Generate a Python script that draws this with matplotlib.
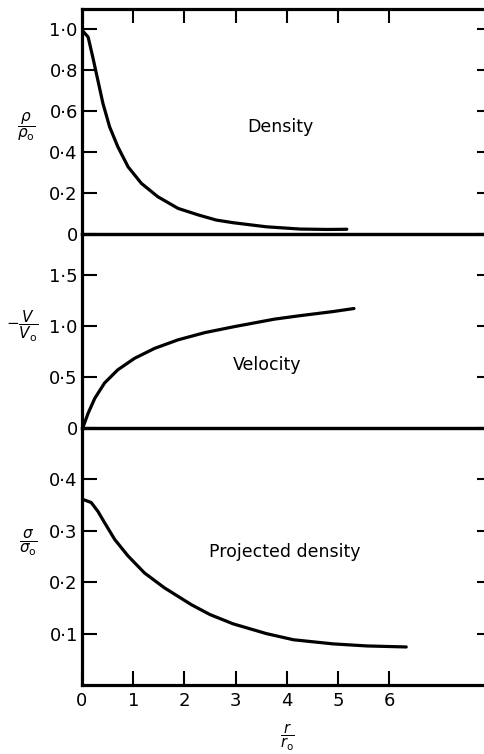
import numpy as np
import matplotlib.pyplot as plt

# values (x is r / r0)
r_density = [0, 0.02, 0.12, 0.21, 0.31, 0.41, 0.54, 0.70, 0.90, 1.16, 1.48, 1.875, 2.27, 2.62, 2.95, 3.6, 4.26, 4.8, 5.17]
density = [1.0, 0.99, 0.962, 0.865, 0.751, 0.637, 0.523, 0.426, 0.328, 0.247, 0.182, 0.125, 0.093, 0.068, 0.055, 0.035, 0.024, 0.022, 0.023]

r_velocity = [0, 0.02, 0.12, 0.25, 0.44, 0.70, 1.03, 1.42, 1.875, 2.40, 2.98, 3.76, 4.26, 4.9, 5.31]
velocity = [0, 0.007, 0.144, 0.29, 0.44, 0.57, 0.683, 0.78, 0.863, 0.934, 0.993, 1.066, 1.10, 1.14, 1.17]

r_projected = [0, 0.02, 0.18, 0.31, 0.44, 0.64, 0.90, 1.22, 1.61, 2.14, 2.5, 2.95, 3.6, 4.13, 4.9, 5.56, 6.33]
projected = [0.362, 0.361, 0.355, 0.338, 0.316, 0.283, 0.251, 0.218, 0.189, 0.156, 0.137, 0.119, 0.100, 0.088, 0.080, 0.076, 0.074]

density_ticks = [0, 0.2, 0.4, 0.6, 0.8, 1.0]
density_labels = ["0", "0·2", "0·4", "0·6", "0·8", "1·0"]
velocity_ticks = [0, 0.5, 1.0, 1.5]
velocity_labels = ["0", "0·5", "1·0", "1·5"]
projected_ticks = [0.1, 0.2, 0.3, 0.4]
projected_labels = ["0·1", "0·2", "0·3", "0·4"]
r_ticks = [0, 1, 2, 3, 4, 5, 6]
r_labels = ["0", "1", "2", "3", "4", "5", "6"]

plt.rcParams['font.family'] = 'DejaVu Sans'

fig = plt.figure(figsize=(4.85, 7.54), dpi=100)
left, width = 0.169, 0.845
ax1 = fig.add_axes([left, 0.6897, width, 0.2987])
ax2 = fig.add_axes([left, 0.4324, width, 0.2573])
ax3 = fig.add_axes([left, 0.0915, width, 0.3409])

lw = 2.3
for ax, ticks, labels, top in [(ax1, density_ticks, density_labels, 1.1),
                               (ax2, velocity_ticks, velocity_labels, 1.9),
                               (ax3, projected_ticks, projected_labels, 0.5)]:
    ax.set_xlim(0, 8)
    ax.set_ylim(0, top)
    for s in ax.spines.values():
        s.set_linewidth(lw)
    ax.set_yticks(ticks, labels)
    ax.tick_params(axis='y', direction='in', length=11, width=1.5, left=True, right=True,
                   labelsize=13, pad=3)
    ax.set_facecolor('none')

ax1.plot(r_density, density, color='black', lw=lw, solid_capstyle='round', solid_joinstyle='round')
ax2.plot(r_velocity, velocity, color='black', lw=lw, solid_capstyle='round', solid_joinstyle='round')
ax3.plot(r_projected, projected, color='black', lw=lw, solid_capstyle='round', solid_joinstyle='round')

ax1.set_xticks(r_ticks[1:])
ax1.tick_params(axis='x', direction='in', length=10, width=1.5, top=True, bottom=False,
                labelbottom=False)
ax2.set_xticks([])
ax3.set_xticks(r_ticks, r_labels)
ax3.tick_params(axis='x', direction='in', length=10, width=1.5, labelsize=13, pad=5)

ax1.text(0.483, 0.476, "Density", transform=ax1.transAxes, ha='center', va='center', fontsize=12.5)
ax2.text(0.451, 0.325, "Velocity", transform=ax2.transAxes, ha='center', va='center', fontsize=12.5)
ax3.text(0.495, 0.517, "Projected density", transform=ax3.transAxes, ha='center', va='center', fontsize=12.5)

fig.text(26 / 485, 1 - 127 / 754, r'$\dfrac{\rho}{\rho_{\mathrm{o}}}$', ha='center', va='center', fontsize=11)
fig.text(22 / 485, 1 - 326 / 754, r'$-\dfrac{V}{V_{\mathrm{o}}}$', ha='center', va='center', fontsize=11)
fig.text(28 / 485, 1 - 543 / 754, r'$\dfrac{\sigma}{\sigma_{\mathrm{o}}}$', ha='center', va='center', fontsize=11)
fig.text(287 / 485, 1 - 737 / 754, r'$\dfrac{r}{r_{\mathrm{o}}}$', ha='center', va='center', fontsize=10.5)

fig.savefig("out.png", dpi=100)
